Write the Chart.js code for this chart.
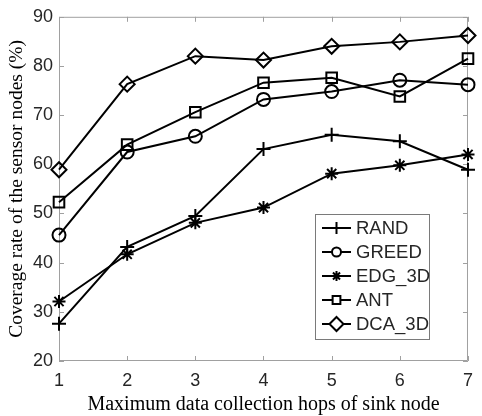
<!DOCTYPE html>
<html>
<head>
<meta charset="utf-8">
<script src="https://cdn.jsdelivr.net/npm/chart.js@4.4.1/dist/chart.umd.min.js"></script>
<style>
  html, body { margin: 0; padding: 0; background: #fff; }
  #wrap { width: 482px; height: 416px; }
</style>
</head>
<body>
<div id="wrap"><canvas id="c" width="482" height="416"></canvas></div>
<script>
// Maximum data collection hops of the sink node
const hops = [1, 2, 3, 4, 5, 6, 7];

// Coverage rate (%) for each algorithm
const rand  = [27.6, 43.2, 49.5, 63.1, 66.0, 64.7, 58.9];
const greed = [45.6, 62.5, 65.7, 73.2, 74.8, 77.1, 76.2];
const edg3d = [32.1, 41.7, 48.1, 51.2, 58.1, 59.8, 62.0];
const ant   = [52.3, 64.0, 70.6, 76.6, 77.6, 73.8, 81.5];
const dca3d = [58.9, 76.3, 82.0, 81.2, 84.0, 84.9, 86.2];

const seriesNames = ['RAND', 'GREED', 'EDG_3D', 'ANT', 'DCA_3D'];
const yTicks = [20, 30, 40, 50, 60, 70, 80, 90];

const markerStyles = ['cross', 'circle', 'star', 'rect', 'rectRot'];
const markerRadius = [7, 6.5, 6.5, 7.5, 7.5];
const legendRadius = [6, 4.5, 5, 5.5, 7];
const seriesValues = [rand, greed, edg3d, ant, dca3d];

const axisGray = '#a0a0a0';
const textGray = '#262626';

const datasets = seriesNames.map((name, i) => ({
  label: name,
  data: hops.map((h, j) => ({ x: h, y: seriesValues[i][j] })),
  borderColor: '#000',
  backgroundColor: 'rgba(0,0,0,0)',
  borderWidth: 2,
  pointStyle: markerStyles[i],
  pointRadius: markerRadius[i],
  pointBorderWidth: 2,
  pointBorderColor: '#000',
  pointBackgroundColor: 'rgba(0,0,0,0)',
  tension: 0,
  clip: false
}));

// Box frame with inward tick marks on all four sides
const boxTicks = {
  id: 'boxTicks',
  beforeDatasetsDraw(chart) {
    const { ctx, chartArea: a, scales } = chart;
    ctx.save();
    ctx.strokeStyle = axisGray;
    ctx.lineWidth = 1;
    ctx.beginPath();
    ctx.rect(a.left + 0.5, a.top + 0.5, a.right - a.left - 1, a.bottom - a.top - 1);
    const len = 5;
    hops.forEach(h => {
      const x = Math.round(scales.x.getPixelForValue(h)) + 0.5;
      ctx.moveTo(x, a.bottom); ctx.lineTo(x, a.bottom - len);
      ctx.moveTo(x, a.top); ctx.lineTo(x, a.top + len);
    });
    yTicks.forEach(v => {
      const y = Math.round(scales.y.getPixelForValue(v)) + 0.5;
      ctx.moveTo(a.left, y); ctx.lineTo(a.left + len, y);
      ctx.moveTo(a.right, y); ctx.lineTo(a.right - len, y);
    });
    ctx.stroke();
    ctx.restore();
  }
};

// Legend box: line sample with hollow marker, then name
const lineLegend = {
  id: 'lineLegend',
  afterDraw(chart) {
    const { ctx } = chart;
    const bx = 315.5, by = 214.5, bw = 114, bh = 125;
    ctx.save();
    ctx.fillStyle = '#fff';
    ctx.fillRect(bx, by, bw, bh);
    ctx.strokeStyle = '#7a7a7a';
    ctx.lineWidth = 1;
    ctx.strokeRect(bx, by, bw, bh);
    ctx.font = '18.5px "Liberation Sans", Arial, sans-serif';
    ctx.textBaseline = 'middle';
    ctx.textAlign = 'left';
    seriesNames.forEach((name, i) => {
      const y = 228 + i * 24;
      ctx.strokeStyle = '#000';
      ctx.lineWidth = 2;
      ctx.beginPath();
      ctx.moveTo(322, y); ctx.lineTo(351, y);
      ctx.stroke();
      ctx.fillStyle = '#fff';
      Chart.helpers.drawPoint(ctx, {
        pointStyle: markerStyles[i],
        radius: legendRadius[i],
        borderWidth: 2
      }, 336.5, y);
      ctx.fillStyle = textGray;
      ctx.fillText(name, 356, y + 1);
    });
    ctx.restore();
  }
};

new Chart(document.getElementById('c'), {
  type: 'line',
  data: { datasets },
  options: {
    responsive: false,
    animation: false,
    events: [],
    layout: { padding: { top: 15, right: 6, left: 0, bottom: 0 } },
    plugins: { legend: { display: false }, tooltip: { enabled: false } },
    scales: {
      x: {
        type: 'linear',
        min: 1, max: 7,
        afterBuildTicks(scale) { scale.ticks = hops.map(v => ({ value: v })); },
        afterFit(scale) { scale.height = 55; },
        grid: { display: false, drawTicks: false },
        border: { display: false },
        ticks: {
          color: textGray,
          padding: 9,
          maxRotation: 0,
          font: { family: '"Liberation Sans", Arial, sans-serif', size: 18 }
        },
        title: {
          display: true,
          text: 'Maximum data collection hops of sink node',
          color: '#000',
          padding: { top: 0, bottom: -1 },
          font: { family: '"Liberation Serif", "Times New Roman", serif', size: 20 }
        }
      },
      y: {
        type: 'linear',
        min: 20, max: 90,
        afterBuildTicks(scale) { scale.ticks = yTicks.map(v => ({ value: v })); },
        afterFit(scale) { scale.width = 59; },
        grid: { display: false, drawTicks: false },
        border: { display: false },
        ticks: {
          color: textGray,
          padding: 6,
          font: { family: '"Liberation Sans", Arial, sans-serif', size: 18 }
        },
        title: {
          display: true,
          text: 'Coverage rate of the sensor nodes (%)',
          color: '#000',
          padding: { top: 5, bottom: 0 },
          font: { family: '"Liberation Serif", "Times New Roman", serif', size: 19.5 }
        }
      }
    }
  },
  plugins: [boxTicks, lineLegend]
});
</script>
</body>
</html>
